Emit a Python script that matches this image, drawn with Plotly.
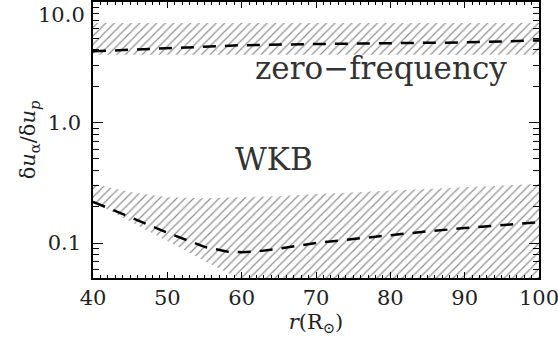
import math
import plotly.graph_objects as go

# radius in solar radii
r_band = [40, 45, 50, 55, 60, 65, 70, 80, 90, 100]

# zero-frequency band and curve
zf_low = [3.65, 3.65, 3.65, 3.65, 3.65, 3.65, 3.65, 3.65, 3.65, 3.65]
zf_high = [6.7, 6.7, 6.7, 6.7, 6.7, 6.7, 6.7, 6.7, 6.7, 6.7]
r_zf = [40, 50, 60, 70, 80, 90, 100]
zf_line = [3.9, 4.15, 4.38, 4.48, 4.55, 4.62, 4.8]

# WKB band and curve
wkb_low = [0.22, 0.151, 0.104, 0.071, 0.049, 0.03, 0.03, 0.03, 0.03, 0.03]
wkb_high = [0.31, 0.265, 0.24, 0.235, 0.24, 0.245, 0.255, 0.27, 0.29, 0.31]
r_wkb = [40, 45, 50, 55, 58, 60, 62, 65, 70, 75, 80, 85, 90, 95, 100]
wkb_line = [0.22, 0.165, 0.122, 0.093, 0.085, 0.084, 0.085, 0.09, 0.1, 0.108,
            0.117, 0.125, 0.133, 0.141, 0.149]

y_tickvals = [0.1, 1, 10]
y_ticktext = ["0.1", "1.0", "10.0"]

hatch = dict(shape="/", fgcolor="#222222", bgcolor="white", size=6, solidity=0.2)
font = "DejaVu Serif"
txt = "#222222"

fig = go.Figure()

for lo, hi in [(zf_low, zf_high), (wkb_low, wkb_high)]:
    fig.add_trace(go.Scatter(x=r_band, y=lo, mode="lines", line=dict(width=0),
                             showlegend=False, hoverinfo="skip"))
    fig.add_trace(go.Scatter(x=r_band, y=hi, mode="lines", line=dict(width=0),
                             fill="tonexty", fillcolor="rgba(0,0,0,0)", fillpattern=hatch,
                             showlegend=False, hoverinfo="skip"))

fig.add_trace(go.Scatter(x=r_zf, y=zf_line, mode="lines",
                         line=dict(color="black", width=2.5, dash="13px,9px"),
                         showlegend=False))
fig.add_trace(go.Scatter(x=r_wkb, y=wkb_line, mode="lines",
                         line=dict(color="black", width=2.5, dash="13px,9px"),
                         showlegend=False))

# annotation y positions on a log axis are given as log10 values
fig.add_annotation(x=78.8, y=math.log10(2.85), xref="x", yref="y", yanchor="middle",
                   text="zero\u2212frequency", showarrow=False,
                   font=dict(family=font, size=31, color="#333333"))
fig.add_annotation(x=64.3, y=math.log10(0.5), xref="x", yref="y", yanchor="middle",
                   text="WKB", showarrow=False,
                   font=dict(family=font, size=31, color="#333333"))

# top tick label sits just below its tick, as in the original, so it is placed by hand
fig.add_annotation(x=0, y=math.log10(y_tickvals[-1]), xref="paper", yref="y",
                   xanchor="right", yanchor="top", xshift=-6, yshift=1,
                   text=y_ticktext[-1], showarrow=False,
                   font=dict(family=font, size=21, color=txt))

fig.update_xaxes(
    range=[40, 100], tickvals=[40, 50, 60, 70, 80, 90, 100],
    ticks="inside", ticklen=6, tickwidth=1, tickcolor="black",
    minor=dict(ticks="inside", ticklen=3, dtick=1, tick0=40, tickcolor="black"),
    showline=True, linecolor="black", linewidth=1.5, mirror="ticks",
    showgrid=False, zeroline=False, automargin=False, ticklabeloverflow="allow",
    tickfont=dict(family=font, size=21, color=txt),
    title=dict(text="<i>r</i>(R<sub>\u2299</sub>)", standoff=4,
               font=dict(family=font, size=21, color=txt)),
)
fig.update_yaxes(
    type="log", range=[-1.29, 1.0],
    tickvals=y_tickvals, ticktext=y_ticktext[:-1] + [""],
    ticks="inside", ticklen=10, tickwidth=1, tickcolor="black",
    minor=dict(ticks="inside", ticklen=6, tickcolor="black", tickmode="array",
               tickvals=[0.06, 0.07, 0.08, 0.09, 0.2, 0.3, 0.4, 0.5, 0.6, 0.7, 0.8, 0.9,
                         2, 3, 4, 5, 6, 7, 8, 9]),
    showline=True, linecolor="black", linewidth=1.5, mirror="ticks",
    showgrid=False, zeroline=False, ticklabelstandoff=6,
    automargin=False, ticklabeloverflow="allow",
    tickfont=dict(family=font, size=21, color=txt),
    title=dict(text="\u03b4<i>u</i><sub>\u03b1</sub>/\u03b4<i>u</i><sub><i>p</i></sub>",
               standoff=6, font=dict(family=font, size=21, color=txt)),
)

fig.update_layout(
    width=558, height=345,
    margin=dict(l=93, r=19, t=2, b=67),
    plot_bgcolor="white", paper_bgcolor="white",
)

# drop the page's default body margin so the figure sits at the window corner
fig.write_html("out.html", config={"displayModeBar": False},
               post_script="document.body.style.margin='0';document.body.style.overflow='hidden';")
